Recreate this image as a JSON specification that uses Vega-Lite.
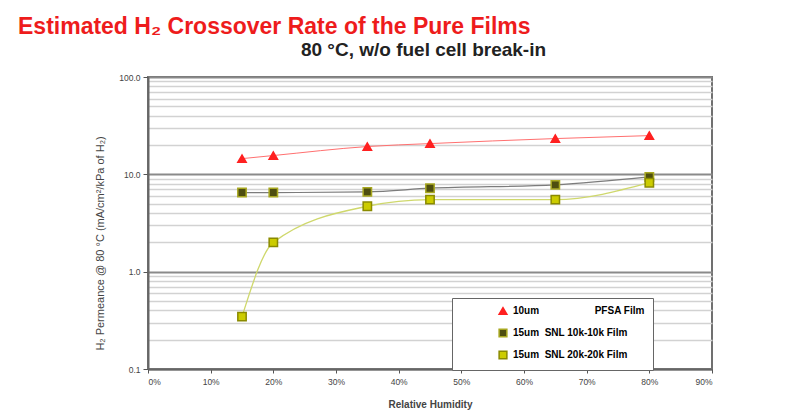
{
  "$schema": "https://vega.github.io/schema/vega-lite/v6.json",
  "width": 564,
  "height": 292,
  "autosize": "none",
  "padding": {"left": 148, "top": 77, "right": 86, "bottom": 41},
  "background": "white",
  "title": {
    "text": "Estimated H₂ Crossover Rate of the Pure Films",
    "anchor": "start",
    "frame": "group",
    "dx": -130,
    "offset": 1,
    "font": "Liberation Sans",
    "fontSize": 23,
    "fontWeight": "bold",
    "color": "#ee1c1c"
  },
  "config": {
    "view": {"stroke": "#707070", "strokeWidth": 2},
    "font": "Liberation Sans"
  },
  "data": {
    "values": [
      {"series": "a", "rh": 0.15, "value": 14.5},
      {"series": "a", "rh": 0.20, "value": 15.6},
      {"series": "a", "rh": 0.35, "value": 19.3},
      {"series": "a", "rh": 0.45, "value": 20.7},
      {"series": "a", "rh": 0.65, "value": 23.3},
      {"series": "a", "rh": 0.80, "value": 25.0},
      {"series": "b", "rh": 0.15, "value": 6.5},
      {"series": "b", "rh": 0.20, "value": 6.5},
      {"series": "b", "rh": 0.35, "value": 6.6},
      {"series": "b", "rh": 0.45, "value": 7.2},
      {"series": "b", "rh": 0.65, "value": 7.8},
      {"series": "b", "rh": 0.80, "value": 9.4},
      {"series": "c", "rh": 0.15, "value": 0.345},
      {"series": "c", "rh": 0.20, "value": 2.0},
      {"series": "c", "rh": 0.35, "value": 4.7},
      {"series": "c", "rh": 0.45, "value": 5.5},
      {"series": "c", "rh": 0.65, "value": 5.5},
      {"series": "c", "rh": 0.80, "value": 8.2}
    ]
  },
  "resolve": {"axis": {"x": "independent", "y": "independent"}},
  "layer": [
    {
      "transform": [{"filter": "datum.series === 'a'"}],
      "mark": {"type": "line", "color": "#ff7070", "strokeWidth": 1, "interpolate": "monotone"},
      "encoding": {
        "x": {"field": "rh", "type": "quantitative", "scale": {"domain": [0, 0.9]},
          "axis": {"orient": "top", "labels": false, "ticks": false, "domain": false, "grid": false,
            "title": "80 °C, w/o fuel cell break-in", "titleFontSize": 19, "titleFontWeight": "bold",
            "titleColor": "#222", "titlePadding": 18, "titleX": 275}},
        "y": {"field": "value", "type": "quantitative", "scale": {"type": "log", "domain": [0.1, 100]},
          "axis": {"orient": "right", "labels": false, "ticks": false, "domain": false, "title": null,
            "grid": true, "gridColor": "#d2d2d2", "gridWidth": 1.6,
            "values": [0.2, 0.3, 0.4, 0.5, 0.6, 0.7, 0.8, 0.9, 2, 3, 4, 5, 6, 7, 8, 9, 20, 30, 40, 50, 60, 70, 80, 90]}}
      }
    },
    {
      "transform": [{"filter": "datum.series === 'b'"}],
      "mark": {"type": "line", "color": "#7c7c7c", "strokeWidth": 1.2, "interpolate": "monotone"},
      "encoding": {
        "x": {"field": "rh", "type": "quantitative", "axis": null},
        "y": {"field": "value", "type": "quantitative", "axis": null}
      }
    },
    {
      "transform": [{"filter": "datum.series === 'c'"}],
      "mark": {"type": "line", "color": "#cfd86c", "strokeWidth": 1.3, "interpolate": "monotone"},
      "encoding": {
        "x": {"field": "rh", "type": "quantitative", "axis": null},
        "y": {"field": "value", "type": "quantitative", "axis": null}
      }
    },
    {
      "mark": {"type": "point", "filled": true, "size": 70, "opacity": 1, "strokeWidth": 1.5},
      "encoding": {
        "x": {"field": "rh", "type": "quantitative",
          "axis": {"title": "Relative Humidity", "format": ".0%", "values": [0, 0.1, 0.2, 0.3, 0.4, 0.5, 0.6, 0.7, 0.8, 0.9],
            "grid": false, "labelFontSize": 8.5, "labelColor": "#444", "labelPadding": 4,
            "tickSize": 4, "tickColor": "#555", "domainColor": "#666", "domainWidth": 2,
            "titleFontSize": 10, "titleFontWeight": "bold", "titleColor": "#444", "titlePadding": 14}},
        "y": {"field": "value", "type": "quantitative",
          "axis": {"title": "H₂ Permeance @ 80 °C (mA/cm²/kPa of H₂)", "values": [0.1, 1, 10, 100], "format": ".1f",
            "grid": true, "gridColor": "#8a8a8a", "gridWidth": 1.8,
            "labelFontSize": 8.5, "labelColor": "#444", "labelPadding": 3, "tickSize": 5, "tickColor": "#555",
            "domainColor": "#666", "domainWidth": 2,
            "titleFontSize": 11, "titleFontWeight": "normal", "titleColor": "#444", "titlePadding": 13, "titleY": 166}},
        "fill": {"field": "series", "type": "nominal",
          "scale": {"domain": ["a", "b", "c"], "range": ["#ff2020", "#4e4e10", "#cccc00"]},
          "legend": {
            "orient": "none", "legendX": 304, "legendY": 221, "title": null,
            "fillColor": "white", "strokeColor": "#666", "padding": 8, "rowPadding": 8,
            "symbolOffset": 38, "labelOffset": 5, "labelFontSize": 10, "labelFontWeight": "bold", "labelLimit": 400,
            "symbolSize": 60,
            "labelExpr": "datum.value === 'a' ? '10um\u00a0\u00a0\u00a0\u00a0\u00a0\u00a0\u00a0\u00a0\u00a0\u00a0\u00a0\u00a0\u00a0\u00a0\u00a0\u00a0\u00a0\u00a0\u00a0\u00a0PFSA Film\u00a0\u00a0\u00a0\u00a0\u00a0\u00a0\u00a0\u00a0\u00a0\u00a0\u00a0\u00a0\u00a0\u00a0\u00a0\u00a0\u00a0' : datum.value === 'b' ? '15um\u00a0 SNL 10k-10k Film' : '15um\u00a0 SNL 20k-20k Film'",
            "encode": {"labels": {"update": {"fill": {"signal": "datum.value === 'a' ? '#ee1c1c' : datum.value === 'b' ? '#333318' : '#b4b400'"}}}}
          }},
        "stroke": {"field": "series", "type": "nominal",
          "scale": {"domain": ["a", "b", "c"], "range": ["#ff2020", "#a8a820", "#8a8a00"]}},
        "shape": {"field": "series", "type": "nominal",
          "scale": {"domain": ["a", "b", "c"], "range": ["triangle-up", "square", "square"]}}
      }
    }
  ]
}
